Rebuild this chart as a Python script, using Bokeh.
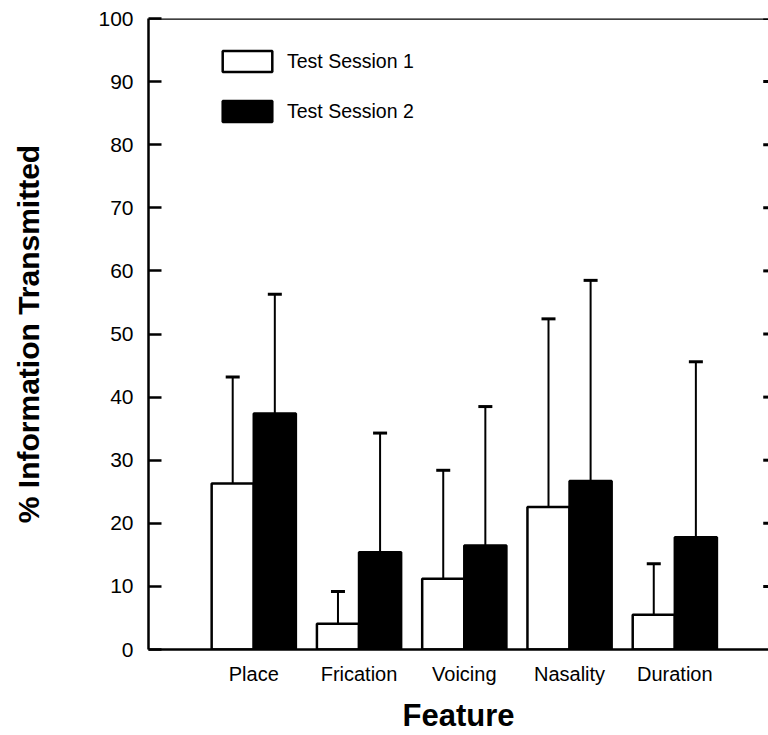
from bokeh.plotting import figure
from bokeh.models import (ColumnDataSource, Whisker, TeeHead, FixedTicker,
                          Range1d, Span, Legend, LegendItem)
from bokeh.embed import file_html
from bokeh.resources import INLINE

# ---- data ----
features = ["Place", "Frication", "Voicing", "Nasality", "Duration"]
session1 = [26.3, 4.1, 11.2, 22.6, 5.5]
session1_sd = [16.9, 5.1, 17.2, 29.8, 8.1]
session2 = [37.4, 15.4, 16.5, 26.7, 17.8]
session2_sd = [18.9, 18.9, 22.0, 31.8, 27.8]
y_ticks = [0, 10, 20, 30, 40, 50, 60, 70, 80, 90, 100]

pos = list(range(1, len(features) + 1))
off = 0.2
bw = 0.4
X_END = 5.89

src1 = ColumnDataSource(dict(x=[p - off for p in pos], top=session1,
                             upper=[m + s for m, s in zip(session1, session1_sd)]))
src2 = ColumnDataSource(dict(x=[p + off for p in pos], top=session2,
                             upper=[m + s for m, s in zip(session2, session2_sd)]))

FONT = "Liberation Sans"

p = figure(width=768, height=735, output_backend="svg", toolbar_location=None,
           x_range=Range1d(0, X_END), y_range=Range1d(0, 100),
           min_border_left=148, min_border_right=0, min_border_top=18, min_border_bottom=60)
p.outline_line_color = None
p.grid.visible = False
p.background_fill_color = "white"

# axes styling
p.yaxis.ticker = FixedTicker(ticks=y_ticks)
p.yaxis.major_tick_in = 13
p.yaxis.major_tick_out = 0
p.yaxis.minor_tick_line_color = None
p.yaxis.axis_line_width = 2.5
p.yaxis.major_tick_line_width = 2.5
p.yaxis.major_label_text_font = FONT
p.yaxis.major_label_text_font_size = "21px"
p.yaxis.major_label_text_color = "black"
p.yaxis.major_label_standoff = 15
p.yaxis.axis_label = "% Information Transmitted"
p.yaxis.axis_label_text_font = FONT
p.yaxis.axis_label_text_font_size = "30px"
p.yaxis.axis_label_text_font_style = "bold"
p.yaxis.axis_label_text_color = "black"
p.yaxis.axis_label_standoff = 50

p.xaxis.ticker = FixedTicker(ticks=pos)
p.xaxis.major_label_overrides = {pp: f for pp, f in zip(pos, features)}
p.xaxis.major_tick_line_color = None
p.xaxis.minor_tick_line_color = None
p.xaxis.axis_line_width = 2.5
p.xaxis.major_label_text_font = FONT
p.xaxis.major_label_text_font_size = "20px"
p.xaxis.major_label_text_color = "black"
p.xaxis.major_label_standoff = 7
p.xaxis.axis_label = "Feature"
p.xaxis.axis_label_text_font = FONT
p.xaxis.axis_label_text_font_size = "31px"
p.xaxis.axis_label_text_font_style = "bold"
p.xaxis.axis_label_text_color = "black"
p.xaxis.axis_label_standoff = 10

# top frame line
p.add_layout(Span(location=100, dimension="width", line_color="black", line_width=2.5))

# right inward tick marks
n = len(y_ticks) - 1
p.segment(x0=[X_END - 0.05] * n, x1=[X_END] * n, y0=y_ticks[1:], y1=y_ticks[1:],
          line_color="black", line_width=3)

# bars
r1 = p.vbar(x="x", top="top", width=bw, source=src1, fill_color="white",
            line_color="black", line_width=2.5)
r2 = p.vbar(x="x", top="top", width=bw, source=src2, fill_color="black",
            line_color="black", line_width=2.5)

# error bars (upper only)
for s in (src1, src2):
    w = Whisker(source=s, base="x", lower="top", upper="upper",
                upper_head=TeeHead(size=14, line_width=3, line_color="black"),
                lower_head=None, line_width=2, line_color="black")
    p.add_layout(w)

legend = Legend(items=[LegendItem(label="Test Session 1", renderers=[r1]),
                       LegendItem(label="Test Session 2", renderers=[r2])],
                location=(68, 525), padding=0, margin=0, spacing=24,
                glyph_width=62, glyph_height=26, label_standoff=9,
                label_text_font=FONT, label_text_font_size="19.5px",
                label_text_color="black",
                border_line_color=None, background_fill_alpha=0)
p.add_layout(legend)

open("out.html", "w").write(file_html(p, INLINE))
